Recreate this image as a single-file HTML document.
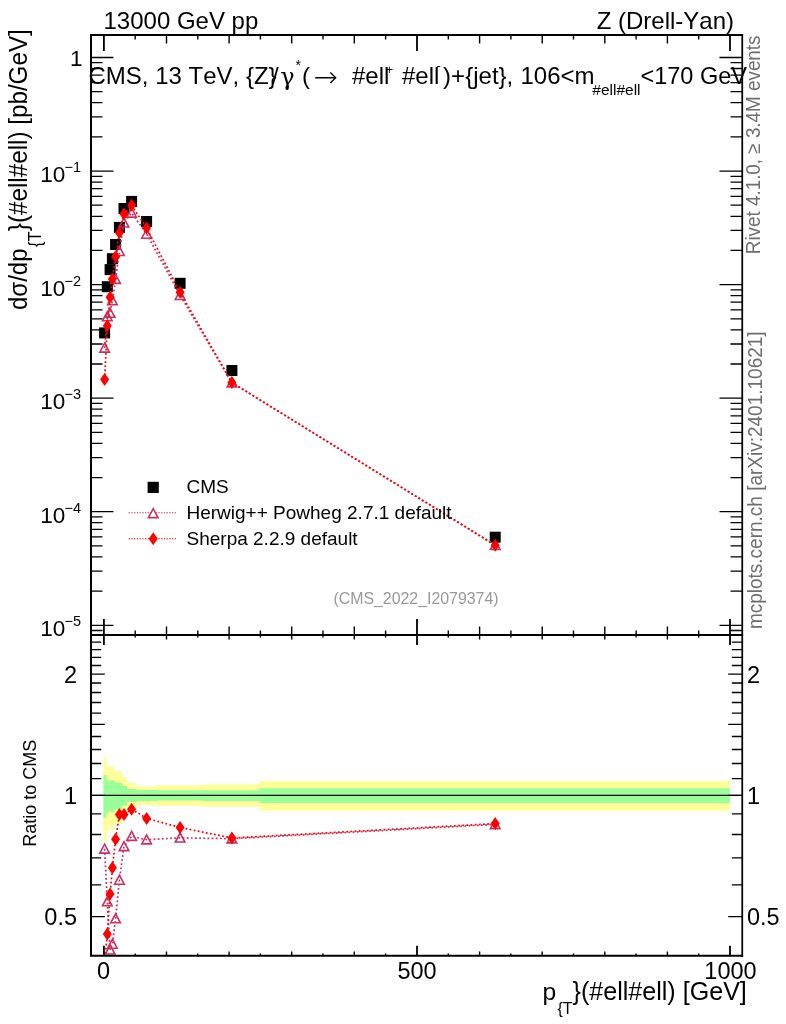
<!DOCTYPE html><html><head><meta charset="utf-8"><title>Z (Drell-Yan) pT(ll)</title>
<style>html,body{margin:0;padding:0;background:#fff}svg{display:block}text{font-family:"Liberation Sans",sans-serif;fill:#000;font-kerning:none}.g{fill:#6e6e6e}</style></head><body>
<svg width="786" height="1024" viewBox="0 0 786 1024">
<rect width="786" height="1024" fill="#fff"/>
<g id="bands">
<polygon fill="#ffff99" points="103.4,757.4 106.6,757.4 106.6,765.4 109.0,765.4 109.0,768.1 110.6,768.1 110.6,765.9 114.1,765.9 114.1,771.1 121.9,771.1 121.9,777.0 127.0,777.0 127.0,783.1 136.7,783.1 136.7,786.4 156.8,786.4 156.8,785.3 203.2,785.3 203.2,784.5 259.7,784.5 259.7,781.0 729.9,781.0 729.9,810.8 259.7,810.8 259.7,806.7 203.2,806.7 203.2,805.9 156.8,805.9 156.8,805.1 136.7,805.1 136.7,808.4 127.0,808.4 127.0,815.0 121.9,815.0 121.9,823.9 114.1,823.9 114.1,830.9 110.6,830.9 110.6,826.1 109.0,826.1 109.0,830.9 106.6,830.9 106.6,842.2 103.4,842.2"/>
<polygon fill="#99ff99" points="103.4,775.1 106.6,775.1 106.6,779.9 109.0,779.9 109.0,781.5 110.6,781.5 110.6,780.2 114.1,780.2 114.1,782.6 121.9,782.6 121.9,785.8 127.0,785.8 127.0,789.0 136.7,789.0 136.7,790.1 156.8,790.1 156.8,790.2 203.2,790.2 203.2,790.2 259.7,790.2 259.7,788.2 729.9,788.2 729.9,802.9 259.7,802.9 259.7,800.9 203.2,800.9 203.2,800.6 156.8,800.6 156.8,800.9 136.7,800.9 136.7,801.9 127.0,801.9 127.0,805.7 121.9,805.7 121.9,809.4 114.1,809.4 114.1,812.1 110.6,812.1 110.6,810.0 109.0,810.0 109.0,812.7 106.6,812.7 106.6,817.8 103.4,817.8"/>
</g>
<line x1="91.0" x2="742.0" y1="795.4" y2="795.4" stroke="#000" stroke-width="1.3"/>
<g id="main">
<rect x="99.1" y="327.4" width="11" height="11" fill="#000"/>
<rect x="101.8" y="281.2" width="11" height="11" fill="#000"/>
<rect x="104.6" y="264.1" width="11" height="11" fill="#000"/>
<rect x="106.9" y="253.2" width="11" height="11" fill="#000"/>
<rect x="110.1" y="239.0" width="11" height="11" fill="#000"/>
<rect x="113.9" y="221.9" width="11" height="11" fill="#000"/>
<rect x="118.5" y="203.0" width="11" height="11" fill="#000"/>
<rect x="126.1" y="195.9" width="11" height="11" fill="#000"/>
<rect x="141.1" y="216.0" width="11" height="11" fill="#000"/>
<rect x="174.6" y="277.8" width="11" height="11" fill="#000"/>
<rect x="226.4" y="365.0" width="11" height="11" fill="#000"/>
<rect x="489.7" y="531.7" width="11" height="11" fill="#000"/>
<polyline fill="none" stroke="#c83264" stroke-width="1.7" stroke-dasharray="1.8,2.35" points="104.6,348.0 107.3,316.6 110.1,313.1 112.4,300.6 115.6,279.2 119.4,251.2 124.0,222.9 131.6,212.9 146.6,234.0 180.1,295.2 231.9,382.7 495.2,545.4"/>
<polygon points="104.60,343.17 109.40,352.17 99.80,352.17" fill="none" stroke="#c83264" stroke-width="1.6"/>
<polygon points="107.30,311.82 112.10,320.82 102.50,320.82" fill="none" stroke="#c83264" stroke-width="1.6"/>
<polygon points="110.10,308.30 114.90,317.30 105.30,317.30" fill="none" stroke="#c83264" stroke-width="1.6"/>
<polygon points="112.40,295.77 117.20,304.77 107.60,304.77" fill="none" stroke="#c83264" stroke-width="1.6"/>
<polygon points="115.60,274.41 120.40,283.41 110.80,283.41" fill="none" stroke="#c83264" stroke-width="1.6"/>
<polygon points="119.40,246.44 124.20,255.44 114.60,255.44" fill="none" stroke="#c83264" stroke-width="1.6"/>
<polygon points="124.00,218.07 128.80,227.07 119.20,227.07" fill="none" stroke="#c83264" stroke-width="1.6"/>
<polygon points="131.60,208.09 136.40,217.09 126.80,217.09" fill="none" stroke="#c83264" stroke-width="1.6"/>
<polygon points="146.60,229.18 151.40,238.18 141.80,238.18" fill="none" stroke="#c83264" stroke-width="1.6"/>
<polygon points="180.10,290.45 184.90,299.45 175.30,299.45" fill="none" stroke="#c83264" stroke-width="1.6"/>
<polygon points="231.90,377.90 236.70,386.90 227.10,386.90" fill="none" stroke="#c83264" stroke-width="1.6"/>
<polygon points="495.20,540.57 500.00,549.57 490.40,549.57" fill="none" stroke="#c83264" stroke-width="1.6"/>
<polyline fill="none" stroke="#ff0000" stroke-width="1.7" stroke-dasharray="1.8,2.35" points="104.6,379.5 107.3,325.7 110.1,297.4 112.4,279.1 115.6,256.8 119.4,232.8 124.0,213.9 131.6,205.3 146.6,228.0 180.1,292.3 231.9,382.5 495.2,545.1"/>
<polygon points="104.60,373.00 109.10,379.50 104.60,386.00 100.10,379.50" fill="#ff0000"/>
<polygon points="107.30,319.22 111.80,325.72 107.30,332.22 102.80,325.72" fill="#ff0000"/>
<polygon points="110.10,290.85 114.60,297.35 110.10,303.85 105.60,297.35" fill="#ff0000"/>
<polygon points="112.40,272.57 116.90,279.07 112.40,285.57 107.90,279.07" fill="#ff0000"/>
<polygon points="115.60,250.34 120.10,256.84 115.60,263.34 111.10,256.84" fill="#ff0000"/>
<polygon points="119.40,226.31 123.90,232.81 119.40,239.31 114.90,232.81" fill="#ff0000"/>
<polygon points="124.00,207.41 128.50,213.91 124.00,220.41 119.50,213.91" fill="#ff0000"/>
<polygon points="131.60,198.79 136.10,205.29 131.60,211.79 127.10,205.29" fill="#ff0000"/>
<polygon points="146.60,221.48 151.10,227.98 146.60,234.48 142.10,227.98" fill="#ff0000"/>
<polygon points="180.10,285.84 184.60,292.34 180.10,298.84 175.60,292.34" fill="#ff0000"/>
<polygon points="231.90,376.00 236.40,382.50 231.90,389.00 227.40,382.50" fill="#ff0000"/>
<polygon points="495.20,538.65 499.70,545.15 495.20,551.65 490.70,545.15" fill="#ff0000"/>
</g>
<clipPath id="rc"><rect x="91.0" y="635.0" width="651.0" height="320.8"/></clipPath>
<g id="ratio" clip-path="url(#rc)">
<polyline fill="none" stroke="#c83264" stroke-width="1.7" stroke-dasharray="1.8,2.35" points="104.6,848.9 107.3,901.6 110.1,949.8 112.4,944.0 115.6,918.6 119.4,880.0 124.0,846.4 131.6,836.2 146.6,839.7 180.1,837.8 231.9,838.7 495.2,824.4"/>
<polygon points="104.60,844.10 109.40,853.10 99.80,853.10" fill="none" stroke="#c83264" stroke-width="1.6"/>
<polygon points="107.30,896.80 112.10,905.80 102.50,905.80" fill="none" stroke="#c83264" stroke-width="1.6"/>
<polygon points="110.10,945.00 114.90,954.00 105.30,954.00" fill="none" stroke="#c83264" stroke-width="1.6"/>
<polygon points="112.40,939.20 117.20,948.20 107.60,948.20" fill="none" stroke="#c83264" stroke-width="1.6"/>
<polygon points="115.60,913.80 120.40,922.80 110.80,922.80" fill="none" stroke="#c83264" stroke-width="1.6"/>
<polygon points="119.40,875.20 124.20,884.20 114.60,884.20" fill="none" stroke="#c83264" stroke-width="1.6"/>
<polygon points="124.00,841.60 128.80,850.60 119.20,850.60" fill="none" stroke="#c83264" stroke-width="1.6"/>
<polygon points="131.60,831.40 136.40,840.40 126.80,840.40" fill="none" stroke="#c83264" stroke-width="1.6"/>
<polygon points="146.60,834.90 151.40,843.90 141.80,843.90" fill="none" stroke="#c83264" stroke-width="1.6"/>
<polygon points="180.10,833.00 184.90,842.00 175.30,842.00" fill="none" stroke="#c83264" stroke-width="1.6"/>
<polygon points="231.90,833.90 236.70,842.90 227.10,842.90" fill="none" stroke="#c83264" stroke-width="1.6"/>
<polygon points="495.20,819.60 500.00,828.60 490.40,828.60" fill="none" stroke="#c83264" stroke-width="1.6"/>
<polyline fill="none" stroke="#ff0000" stroke-width="1.7" stroke-dasharray="1.8,2.35" points="104.6,962.0 107.3,933.9 110.1,893.9 112.4,867.7 115.6,839.2 119.4,814.6 124.0,814.6 131.6,809.2 146.6,818.4 180.1,827.5 231.9,838.0 495.2,823.6"/>
<polygon points="104.60,955.50 109.10,962.00 104.60,968.50 100.10,962.00" fill="#ff0000"/>
<polygon points="107.30,927.40 111.80,933.90 107.30,940.40 102.80,933.90" fill="#ff0000"/>
<polygon points="110.10,887.40 114.60,893.90 110.10,900.40 105.60,893.90" fill="#ff0000"/>
<polygon points="112.40,861.20 116.90,867.70 112.40,874.20 107.90,867.70" fill="#ff0000"/>
<polygon points="115.60,832.70 120.10,839.20 115.60,845.70 111.10,839.20" fill="#ff0000"/>
<polygon points="119.40,808.10 123.90,814.60 119.40,821.10 114.90,814.60" fill="#ff0000"/>
<polygon points="124.00,808.10 128.50,814.60 124.00,821.10 119.50,814.60" fill="#ff0000"/>
<polygon points="131.60,802.70 136.10,809.20 131.60,815.70 127.10,809.20" fill="#ff0000"/>
<polygon points="146.60,811.90 151.10,818.40 146.60,824.90 142.10,818.40" fill="#ff0000"/>
<polygon points="180.10,821.00 184.60,827.50 180.10,834.00 175.60,827.50" fill="#ff0000"/>
<polygon points="231.90,831.50 236.40,838.00 231.90,844.50 227.40,838.00" fill="#ff0000"/>
<polygon points="495.20,817.10 499.70,823.60 495.20,830.10 490.70,823.60" fill="#ff0000"/>
</g>
<g id="ticks" stroke="#000" fill="none">
<path stroke-width="1.8" d="M103.9 35.0v16.0M103.9 635.0v-16.0 M103.9 635.0v10.0 M103.9 955.8v-10.0"/>
<path stroke-width="1.4" d="M135.2 35.0v4.4M135.2 635.0v-4.4 M135.2 635.0v2.4 M135.2 955.8v-2.4"/>
<path stroke-width="1.4" d="M166.5 35.0v8.4M166.5 635.0v-8.4 M166.5 635.0v4.4 M166.5 955.8v-4.4"/>
<path stroke-width="1.4" d="M197.8 35.0v4.4M197.8 635.0v-4.4 M197.8 635.0v2.4 M197.8 955.8v-2.4"/>
<path stroke-width="1.4" d="M229.1 35.0v8.4M229.1 635.0v-8.4 M229.1 635.0v4.4 M229.1 955.8v-4.4"/>
<path stroke-width="1.4" d="M260.4 35.0v4.4M260.4 635.0v-4.4 M260.4 635.0v2.4 M260.4 955.8v-2.4"/>
<path stroke-width="1.4" d="M291.7 35.0v8.4M291.7 635.0v-8.4 M291.7 635.0v4.4 M291.7 955.8v-4.4"/>
<path stroke-width="1.4" d="M323.0 35.0v4.4M323.0 635.0v-4.4 M323.0 635.0v2.4 M323.0 955.8v-2.4"/>
<path stroke-width="1.4" d="M354.3 35.0v8.4M354.3 635.0v-8.4 M354.3 635.0v4.4 M354.3 955.8v-4.4"/>
<path stroke-width="1.4" d="M385.6 35.0v4.4M385.6 635.0v-4.4 M385.6 635.0v2.4 M385.6 955.8v-2.4"/>
<path stroke-width="1.8" d="M417.0 35.0v16.0M417.0 635.0v-16.0 M417.0 635.0v10.0 M417.0 955.8v-10.0"/>
<path stroke-width="1.4" d="M448.3 35.0v4.4M448.3 635.0v-4.4 M448.3 635.0v2.4 M448.3 955.8v-2.4"/>
<path stroke-width="1.4" d="M479.6 35.0v8.4M479.6 635.0v-8.4 M479.6 635.0v4.4 M479.6 955.8v-4.4"/>
<path stroke-width="1.4" d="M510.9 35.0v4.4M510.9 635.0v-4.4 M510.9 635.0v2.4 M510.9 955.8v-2.4"/>
<path stroke-width="1.4" d="M542.2 35.0v8.4M542.2 635.0v-8.4 M542.2 635.0v4.4 M542.2 955.8v-4.4"/>
<path stroke-width="1.4" d="M573.5 35.0v4.4M573.5 635.0v-4.4 M573.5 635.0v2.4 M573.5 955.8v-2.4"/>
<path stroke-width="1.4" d="M604.8 35.0v8.4M604.8 635.0v-8.4 M604.8 635.0v4.4 M604.8 955.8v-4.4"/>
<path stroke-width="1.4" d="M636.1 35.0v4.4M636.1 635.0v-4.4 M636.1 635.0v2.4 M636.1 955.8v-2.4"/>
<path stroke-width="1.4" d="M667.4 35.0v8.4M667.4 635.0v-8.4 M667.4 635.0v4.4 M667.4 955.8v-4.4"/>
<path stroke-width="1.4" d="M698.7 35.0v4.4M698.7 635.0v-4.4 M698.7 635.0v2.4 M698.7 955.8v-2.4"/>
<path stroke-width="1.8" d="M730.0 35.0v16.0M730.0 635.0v-16.0 M730.0 635.0v10.0 M730.0 955.8v-10.0"/>
<path stroke-width="1.3" d="M91.0 57.5h22.5M742.0 57.5h-22.5"/>
<path stroke-width="1.3" d="M91.0 171.1h22.5M742.0 171.1h-22.5"/>
<path stroke-width="1.3" d="M91.0 136.9h11.5M742.0 136.9h-11.5"/>
<path stroke-width="1.3" d="M91.0 116.9h11.5M742.0 116.9h-11.5"/>
<path stroke-width="1.3" d="M91.0 102.7h11.5M742.0 102.7h-11.5"/>
<path stroke-width="1.3" d="M91.0 91.7h11.5M742.0 91.7h-11.5"/>
<path stroke-width="1.3" d="M91.0 82.7h11.5M742.0 82.7h-11.5"/>
<path stroke-width="1.3" d="M91.0 75.1h11.5M742.0 75.1h-11.5"/>
<path stroke-width="1.3" d="M91.0 68.5h11.5M742.0 68.5h-11.5"/>
<path stroke-width="1.3" d="M91.0 62.7h11.5M742.0 62.7h-11.5"/>
<path stroke-width="1.3" d="M91.0 284.6h22.5M742.0 284.6h-22.5"/>
<path stroke-width="1.3" d="M91.0 250.4h11.5M742.0 250.4h-11.5"/>
<path stroke-width="1.3" d="M91.0 230.4h11.5M742.0 230.4h-11.5"/>
<path stroke-width="1.3" d="M91.0 216.3h11.5M742.0 216.3h-11.5"/>
<path stroke-width="1.3" d="M91.0 205.2h11.5M742.0 205.2h-11.5"/>
<path stroke-width="1.3" d="M91.0 196.3h11.5M742.0 196.3h-11.5"/>
<path stroke-width="1.3" d="M91.0 188.7h11.5M742.0 188.7h-11.5"/>
<path stroke-width="1.3" d="M91.0 182.1h11.5M742.0 182.1h-11.5"/>
<path stroke-width="1.3" d="M91.0 176.3h11.5M742.0 176.3h-11.5"/>
<path stroke-width="1.3" d="M91.0 398.2h22.5M742.0 398.2h-22.5"/>
<path stroke-width="1.3" d="M91.0 364.0h11.5M742.0 364.0h-11.5"/>
<path stroke-width="1.3" d="M91.0 344.0h11.5M742.0 344.0h-11.5"/>
<path stroke-width="1.3" d="M91.0 329.8h11.5M742.0 329.8h-11.5"/>
<path stroke-width="1.3" d="M91.0 318.8h11.5M742.0 318.8h-11.5"/>
<path stroke-width="1.3" d="M91.0 309.8h11.5M742.0 309.8h-11.5"/>
<path stroke-width="1.3" d="M91.0 302.2h11.5M742.0 302.2h-11.5"/>
<path stroke-width="1.3" d="M91.0 295.6h11.5M742.0 295.6h-11.5"/>
<path stroke-width="1.3" d="M91.0 289.8h11.5M742.0 289.8h-11.5"/>
<path stroke-width="1.3" d="M91.0 511.7h22.5M742.0 511.7h-22.5"/>
<path stroke-width="1.3" d="M91.0 477.6h11.5M742.0 477.6h-11.5"/>
<path stroke-width="1.3" d="M91.0 457.6h11.5M742.0 457.6h-11.5"/>
<path stroke-width="1.3" d="M91.0 443.4h11.5M742.0 443.4h-11.5"/>
<path stroke-width="1.3" d="M91.0 432.4h11.5M742.0 432.4h-11.5"/>
<path stroke-width="1.3" d="M91.0 423.4h11.5M742.0 423.4h-11.5"/>
<path stroke-width="1.3" d="M91.0 415.8h11.5M742.0 415.8h-11.5"/>
<path stroke-width="1.3" d="M91.0 409.2h11.5M742.0 409.2h-11.5"/>
<path stroke-width="1.3" d="M91.0 403.4h11.5M742.0 403.4h-11.5"/>
<path stroke-width="1.3" d="M91.0 625.3h22.5M742.0 625.3h-22.5"/>
<path stroke-width="1.3" d="M91.0 591.1h11.5M742.0 591.1h-11.5"/>
<path stroke-width="1.3" d="M91.0 571.1h11.5M742.0 571.1h-11.5"/>
<path stroke-width="1.3" d="M91.0 556.9h11.5M742.0 556.9h-11.5"/>
<path stroke-width="1.3" d="M91.0 545.9h11.5M742.0 545.9h-11.5"/>
<path stroke-width="1.3" d="M91.0 536.9h11.5M742.0 536.9h-11.5"/>
<path stroke-width="1.3" d="M91.0 529.3h11.5M742.0 529.3h-11.5"/>
<path stroke-width="1.3" d="M91.0 522.7h11.5M742.0 522.7h-11.5"/>
<path stroke-width="1.3" d="M91.0 516.9h11.5M742.0 516.9h-11.5"/>
<path stroke-width="1.3" d="M91.0 630.5h11.5M742.0 630.5h-11.5"/>
<path stroke-width="1.3" d="M91.0 916.7h13.8M742.0 916.7h-13.8"/>
<path stroke-width="1.3" d="M91.0 884.8h10.2M742.0 884.8h-10.2"/>
<path stroke-width="1.3" d="M91.0 857.8h10.2M742.0 857.8h-10.2"/>
<path stroke-width="1.3" d="M91.0 834.5h10.2M742.0 834.5h-10.2"/>
<path stroke-width="1.3" d="M91.0 813.8h10.2M742.0 813.8h-10.2"/>
<path stroke-width="1.3" d="M91.0 795.4h13.8M742.0 795.4h-13.8"/>
<path stroke-width="1.3" d="M91.0 778.7h10.2M742.0 778.7h-10.2"/>
<path stroke-width="1.3" d="M91.0 763.5h10.2M742.0 763.5h-10.2"/>
<path stroke-width="1.3" d="M91.0 749.5h10.2M742.0 749.5h-10.2"/>
<path stroke-width="1.3" d="M91.0 736.5h10.2M742.0 736.5h-10.2"/>
<path stroke-width="1.3" d="M91.0 724.4h13.8M742.0 724.4h-13.8"/>
<path stroke-width="1.3" d="M91.0 713.1h10.2M742.0 713.1h-10.2"/>
<path stroke-width="1.3" d="M91.0 702.5h10.2M742.0 702.5h-10.2"/>
<path stroke-width="1.3" d="M91.0 692.5h10.2M742.0 692.5h-10.2"/>
<path stroke-width="1.3" d="M91.0 683.0h10.2M742.0 683.0h-10.2"/>
<path stroke-width="1.3" d="M91.0 674.1h13.8M742.0 674.1h-13.8"/>
<path stroke-width="1.3" d="M91.0 665.5h10.2M742.0 665.5h-10.2"/>
<path stroke-width="1.3" d="M91.0 657.4h10.2M742.0 657.4h-10.2"/>
<path stroke-width="1.3" d="M91.0 649.6h10.2M742.0 649.6h-10.2"/>
<path stroke-width="1.3" d="M91.0 642.1h10.2M742.0 642.1h-10.2"/>
</g>
<g id="frames" stroke="#000" fill="none">
<path stroke-width="2" d="M91.0 34.0V956.8 M90.0 35.0H743.1 M90.0 635.0H743.1 M90.0 955.8H743.1"/>
<path stroke-width="1.75" d="M742.25 34.0V956.8"/>
</g>
<g id="labels">
<text x="103.5" y="29" font-size="24">13000 GeV pp</text>
<text x="734" y="29" font-size="24" text-anchor="end">Z (Drell-Yan)</text>
<g font-size="24">
<text x="88.5" y="84">CMS, 13 TeV, {Z}</text>
<text x="272" y="84">/</text>
<text x="280.2" y="84.5" style="font-family:'DejaVu Serif','Liberation Serif',serif" font-size="24">γ</text>
<text x="295.5" y="69.5" font-size="14">*</text>
<text x="302" y="84">(</text>
<text x="313.4" y="87" style="font-family:'DejaVu Sans Light','DejaVu Sans',sans-serif;font-weight:200" font-size="29">→</text>
<text x="352" y="84">#ell</text>
<text x="385.8" y="74" font-size="12.5">+</text>
<text x="402" y="84">#ell</text>
<text x="436.5" y="69.5" font-size="13">-</text>
<text x="443" y="84">)+</text><text x="465.2" y="84">{jet},</text><text x="520.5" y="84">106&lt;m</text>
<text x="592.3" y="94.8" font-size="15.5">#ell#ell</text>
<text x="640.5" y="84" textLength="106.5" lengthAdjust="spacingAndGlyphs">&lt;170 GeV</text>
</g>
<g font-size="22.5" text-anchor="end">
<text x="82.5" y="65.5">1</text>
<text x="65.3" y="182.1">10</text><text x="81" y="172.1" font-size="14.5">−1</text>
<text x="65.3" y="295.6">10</text><text x="81" y="285.6" font-size="14.5">−2</text>
<text x="65.3" y="409.2">10</text><text x="81" y="399.2" font-size="14.5">−3</text>
<text x="65.3" y="522.7">10</text><text x="81" y="512.7" font-size="14.5">−4</text>
<text x="65.3" y="636.3">10</text><text x="81" y="626.3" font-size="14.5">−5</text>
</g>
<g transform="translate(26.9,0) rotate(-90) scale(1,1.08)" font-size="24">
<text x="-310" y="0">dσ/dp</text><text x="-247" y="12.8" font-size="16.5">{T</text><text x="-231.2" y="0" font-size="24.25">}(#ell#ell) [pb/GeV]</text>
</g>
<g font-size="23.5">
<text x="77" y="682.8" text-anchor="end">2</text><text x="747" y="682.8">2</text>
<text x="77" y="804.1" text-anchor="end">1</text><text x="747" y="804.1">1</text>
<text x="77" y="925.4" text-anchor="end">0.5</text><text x="747" y="925.4">0.5</text>
</g>
<text transform="translate(35.6,846.7) rotate(-90) scale(1,1.07)" font-size="18">Ratio to CMS</text>
<g font-size="23.5" text-anchor="middle">
<text x="103.6" y="978.5">0</text><text x="417.0" y="978.5">500</text><text x="730.5" y="978.5">1000</text>
</g>
<text x="542.4" y="1000.3" font-size="24.6">p</text><text x="557.4" y="1014.4" font-size="16">{T</text><text x="572.5" y="1000.3" font-size="25.1">}(#ell#ell) [GeV]</text>
<g font-size="19">
<rect x="147.6" y="481.8" width="11.2" height="11.2" fill="#000"/>
<text x="186.5" y="493">CMS</text>
<line x1="128.7" x2="176.3" y1="512.8" y2="512.8" stroke="#c83264" stroke-width="1.1" stroke-dasharray="1.35,1.35"/>
<polygon points="153.2,508 158.3,518 148.1,518" fill="#fff"/>
<polygon points="153.20,508.60 158.00,517.60 148.40,517.60" fill="none" stroke="#c83264" stroke-width="1.6"/>
<text x="186.5" y="518.8">Herwig++ Powheg 2.7.1 default</text>
<line x1="128.7" x2="176.3" y1="538.7" y2="538.7" stroke="#ff0000" stroke-width="1.1" stroke-dasharray="1.35,1.35"/>
<polygon points="153.20,532.20 157.70,538.70 153.20,545.20 148.70,538.70" fill="#ff0000"/>
<text x="186.5" y="544.9">Sherpa 2.2.9 default</text>
</g>
<text x="416" y="603.8" font-size="15.9" text-anchor="middle" style="fill:#999">(CMS_2022_I2079374)</text>
<text class="g" transform="translate(759.8,254.2) rotate(-90) scale(1,1.05)" font-size="18.85">Rivet 4.1.0, ≥ 3.4M events</text>
<text class="g" transform="translate(761.5,629.1) rotate(-90) scale(1,1.04)" font-size="19">mcplots.cern.ch [arXiv:2401.10621]</text>
</g>
</svg></body></html>
